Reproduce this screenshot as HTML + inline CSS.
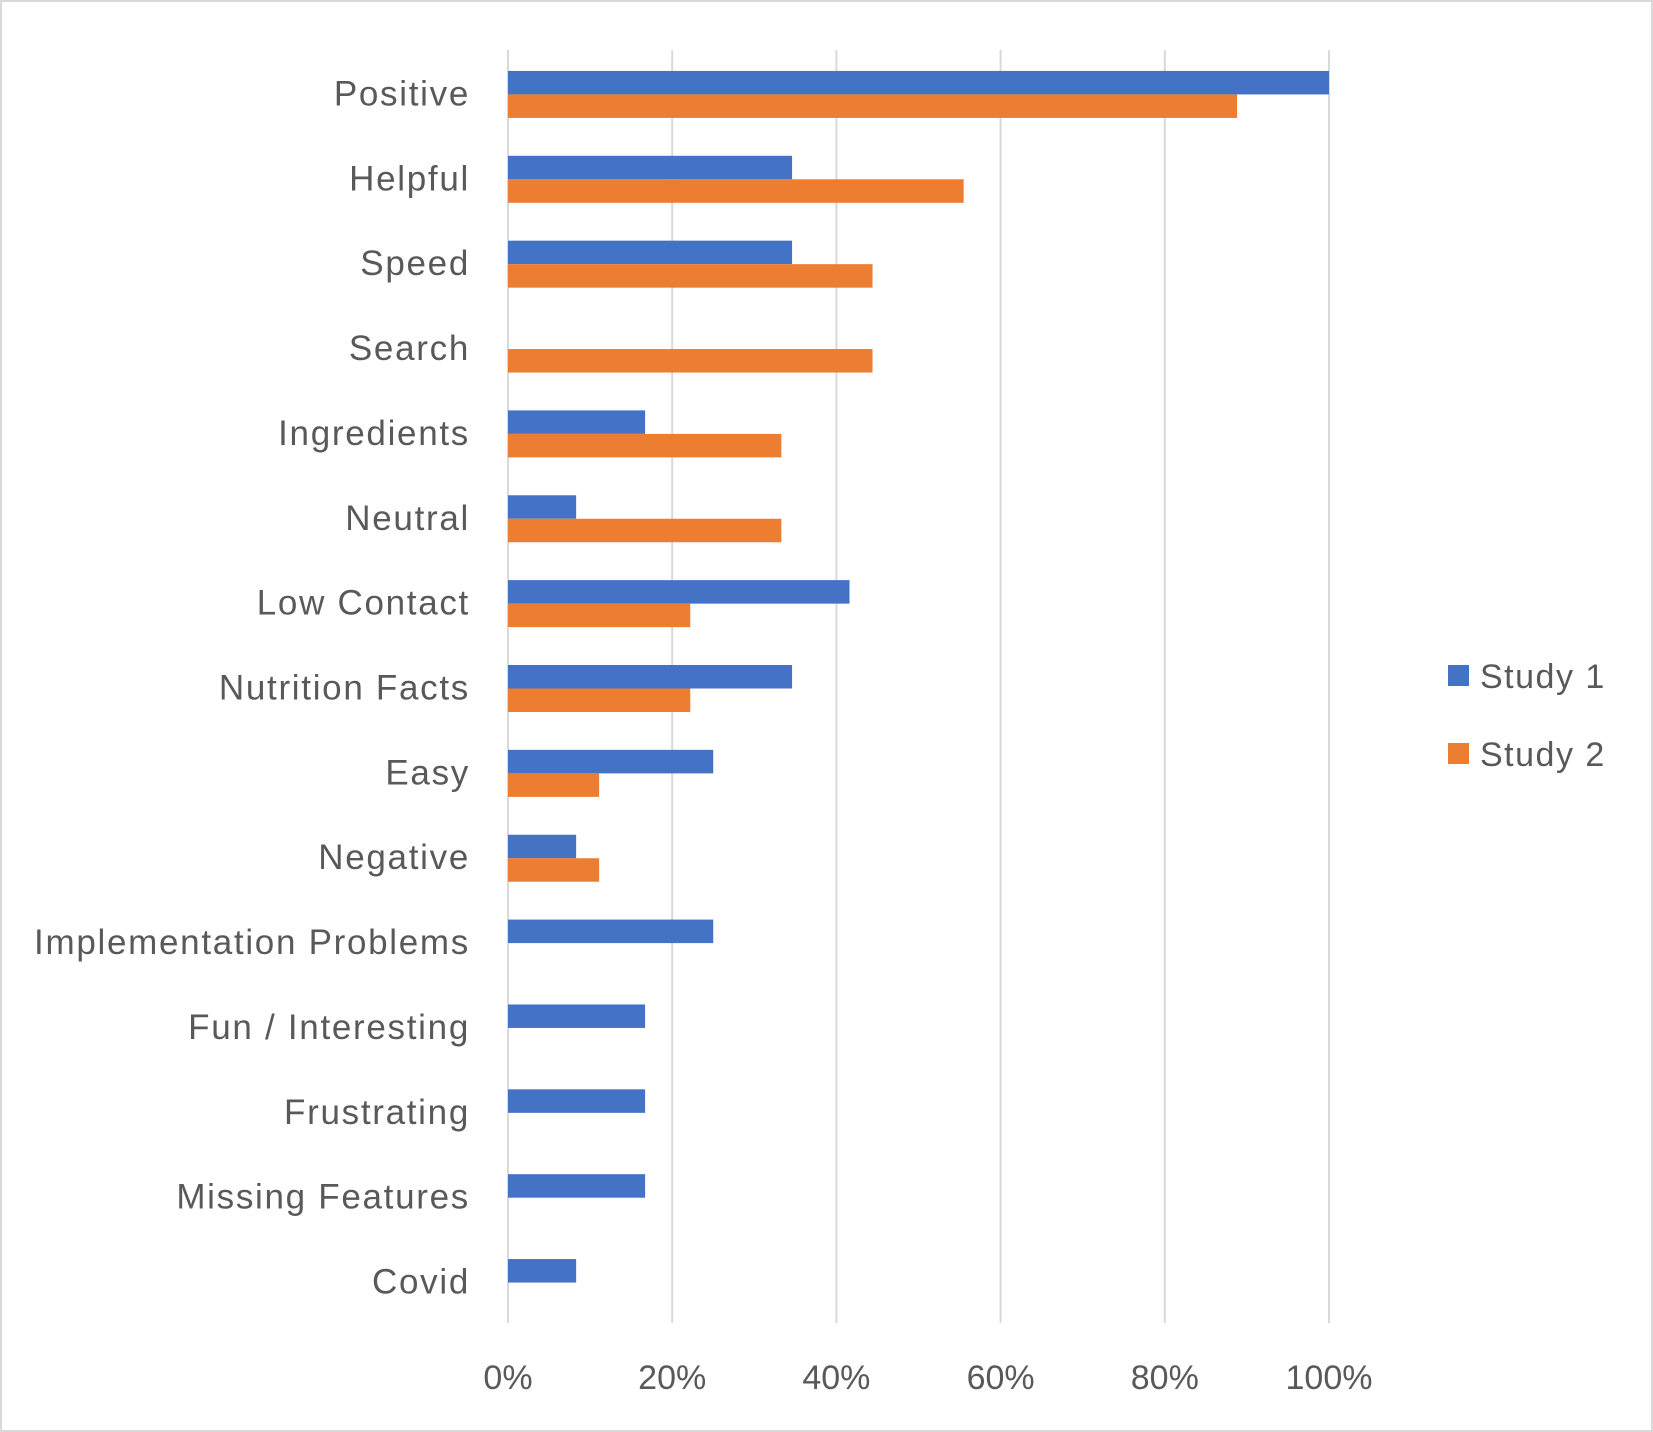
<!DOCTYPE html>
<html><head><meta charset="utf-8"><style>
html,body{margin:0;padding:0;background:#fff}
svg{display:block}
text{font-family:"Liberation Sans",sans-serif;fill:#595959}
</style></head><body>
<svg id="chart" width="1653" height="1432" xmlns="http://www.w3.org/2000/svg">
<rect x="1" y="1" width="1651" height="1430" fill="#fff" stroke="#d9d9d9" stroke-width="2"/>
<g id="grid"></g><g id="bars"></g><g id="labels"></g>
<g>
<rect x="1448" y="665" width="21" height="21" fill="#4472c4"/>
<text x="1480" y="688" font-size="34" letter-spacing="1.5">Study 1</text>
<rect x="1448" y="743" width="21" height="21" fill="#ed7d31"/>
<text x="1480" y="766" font-size="34" letter-spacing="1.5">Study 2</text>
</g>
</svg>
<script>
const categories=["Positive","Helpful","Speed","Search","Ingredients","Neutral","Low Contact","Nutrition Facts","Easy","Negative","Implementation Problems","Fun / Interesting","Frustrating","Missing Features","Covid"];
const study1=[100,34.6,34.6,0,16.7,8.3,41.6,34.6,25,8.3,25,16.7,16.7,16.7,8.3];
const study2=[88.8,55.5,44.4,44.4,33.3,33.3,22.2,22.2,11.1,11.1,0,0,0,0,0];
const ticks=[0,20,40,60,80,100];
const tickLabels=["0%","20%","40%","60%","80%","100%"];
const NS="http://www.w3.org/2000/svg";
const X0=508,X1=1329,Y0=50,Y1=1323;
const band=(Y1-Y0)/categories.length, bh=23.5;
const xs=v=>X0+(X1-X0)*v/100;
const yc=i=>Y0+band*(i+0.5)+2;
function mk(t,a,p){const e=document.createElementNS(NS,t);for(const k in a)e.setAttribute(k,a[k]);document.getElementById(p).appendChild(e);return e;}
ticks.forEach((t,i)=>{
 const l=mk("line",{x1:xs(t),x2:xs(t),y1:Y0,y2:Y1,stroke:"#d9d9d9","stroke-width":2},"grid");
 
 
 const tx=mk("text",{x:xs(t),y:1389,"font-size":34,"text-anchor":"middle"},"labels");
 tx.textContent=tickLabels[i];
 
 
});
categories.forEach((c,i)=>{
 const y=yc(i);
 const tx=mk("text",{x:470,y:y+11,"font-size":35,"letter-spacing":1.7,"text-anchor":"end"},"labels");
 tx.textContent=c;
 
 
 if(study1[i]>0){const r=mk("rect",{x:X0,y:y-bh,width:xs(study1[i])-X0,height:bh,fill:"#4472c4"},"bars");
 
 }
 if(study2[i]>0){const r=mk("rect",{x:X0,y:y,width:xs(study2[i])-X0,height:bh,fill:"#ed7d31"},"bars");
 
 }
});
</script>
</body></html>
